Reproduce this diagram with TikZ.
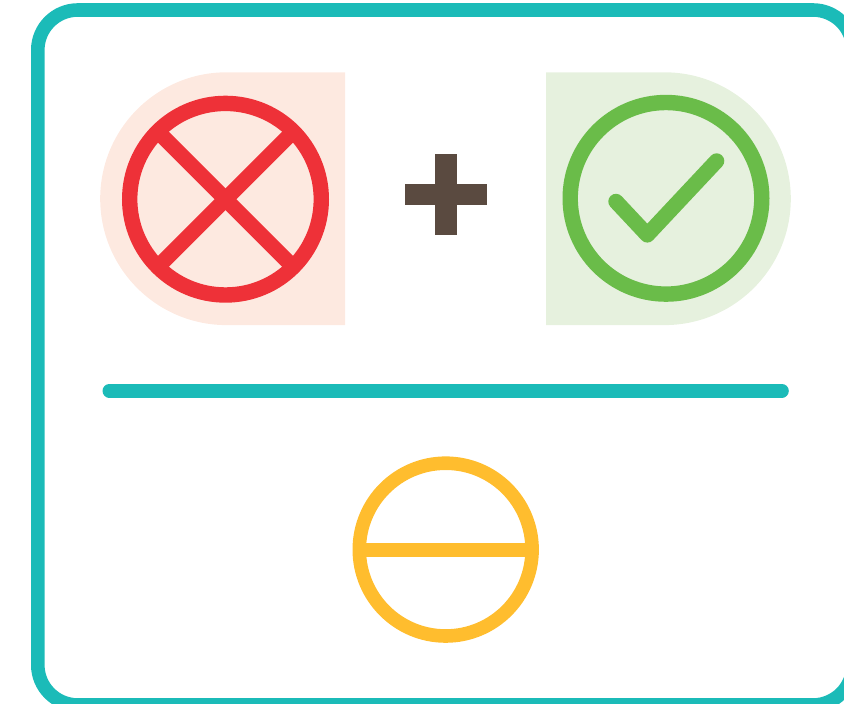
\documentclass[tikz,border=0pt]{standalone}
\definecolor{cadre}{HTML}{1BBBB8}
\definecolor{rouge}{HTML}{EE3138}
\definecolor{rougepale}{HTML}{FDE9E0}
\definecolor{vert}{HTML}{6ABC49}
\definecolor{vertpale}{HTML}{E6F1DE}
\definecolor{jaune}{HTML}{FFBD2E}
\definecolor{brun}{HTML}{5A4A40}
\tikzset{
  trait/.style={line width=15.4pt},
  barre/.style={line width=13.6pt},
}
\begin{document}
\begin{tikzpicture}[x=1pt,y=-1pt]
  \useasboundingbox (0,0) rectangle (844,704);
  \clip (0,0) rectangle (844,704);
  \draw[barre, cadre, rounded corners=40pt] (37.8,10) rectangle (853,705);
  \fill[rougepale] (345,72.3) -- (226.6,72.3) arc[start angle=90, end angle=270, radius=126.4pt] -- (345,325.1) -- cycle;
  \fill[vertpale] (546.2,72.3) -- (664.4,72.3) arc[start angle=90, end angle=-90, radius=126.4pt] -- (546.2,325.1) -- cycle;
  \foreach \x/\y/\couleur in {225.5/199.2/rouge, 666/198.3/vert} {
    \draw[trait, \couleur] (\x,\y) circle[radius=95.8pt];
  }
  \draw[trait, rouge] (157.8,131.5) -- (293.2,266.9);
  \draw[trait, rouge] (293.2,131.5) -- (157.8,266.9);
  \draw[trait, vert, line cap=round, line join=round] (616,201.5) -- (647.3,234.9) -- (716.6,161);
  \fill[brun] (434.6,154.3) rectangle (457.2,235);
  \fill[brun] (404.6,184.2) rectangle (487.2,205.3);
  \draw[barre, cadre, line cap=round] (109.3,390.8) -- (782,390.8);
  \draw[barre, jaune] (445.7,549.6) circle[radius=86.4pt];
  \draw[barre, jaune] (359,549.7) -- (532,549.7);
\end{tikzpicture}
\end{document}
